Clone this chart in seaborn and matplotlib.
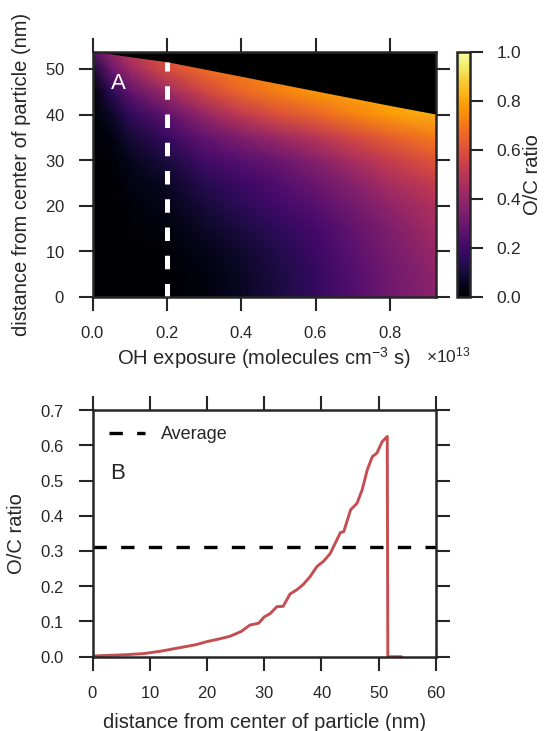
import numpy as np
import matplotlib
matplotlib.use("Agg")
import matplotlib.pyplot as plt
from matplotlib.ticker import ScalarFormatter
import seaborn as sns
import pandas as pd

# ---------------- data ----------------
# Panel A: O/C ratio field, exposure in units of 1e13 molecules cm^-3 s
exposure = [0.0, 0.05, 0.1, 0.2, 0.3, 0.4, 0.5, 0.6, 0.7, 0.8, 0.924]
distance = [0, 5, 10, 15, 20, 25, 30, 35, 40, 45, 50, 55]
# rows = distance, columns = exposure
oc_field = [
    [0.0, 0.0, 0.000, 0.002, 0.020, 0.060, 0.110, 0.170, 0.240, 0.310, 0.380],
    [0.0, 0.0, 0.000, 0.004, 0.025, 0.065, 0.115, 0.175, 0.245, 0.315, 0.390],
    [0.0, 0.0, 0.003, 0.011, 0.040, 0.080, 0.130, 0.190, 0.260, 0.330, 0.410],
    [0.0, 0.0, 0.008, 0.022, 0.070, 0.110, 0.160, 0.210, 0.280, 0.350, 0.440],
    [0.0, 0.0, 0.015, 0.043, 0.100, 0.150, 0.200, 0.250, 0.320, 0.390, 0.470],
    [0.0, 0.0, 0.030, 0.065, 0.140, 0.190, 0.240, 0.300, 0.370, 0.450, 0.530],
    [0.0, 0.01, 0.050, 0.110, 0.200, 0.250, 0.300, 0.370, 0.450, 0.530, 0.610],
    [0.0, 0.03, 0.090, 0.180, 0.280, 0.350, 0.420, 0.490, 0.570, 0.640, 0.710],
    [0.0, 0.07, 0.160, 0.270, 0.400, 0.510, 0.590, 0.650, 0.720, 0.780, 0.820],
    [0.0, 0.15, 0.270, 0.420, 0.560, 0.660, 0.720, 0.770, 0.800, 0.820, 0.840],
    [0.1, 0.30, 0.420, 0.580, 0.670, 0.720, 0.750, 0.780, 0.800, 0.820, 0.840],
    [0.3, 0.42, 0.520, 0.630, 0.680, 0.720, 0.750, 0.780, 0.800, 0.820, 0.840],
]
# particle surface radius (nm) at each exposure
radius = [53.9, 53.3, 52.7, 51.6, 50.0, 48.4, 46.8, 45.2, 43.6, 42.0, 40.1]
cut_exposure = 0.2  # exposure of the profile shown in panel B

# Panel B: radial O/C profile at the cut exposure
profile_r = [0, 3, 6, 9, 12, 15, 18, 20, 22, 24, 26, 27.5, 29, 30, 31, 32.2,
             33.3, 34.5, 35.7, 36.8, 38, 39.2, 40.3, 41.5, 42.4, 43.3, 43.9,
             45.1, 46.2, 47.1, 48.0, 48.9, 49.7, 50.6, 51.5, 51.6, 54]
profile_oc = [0.002, 0.004, 0.006, 0.009, 0.016, 0.025, 0.034, 0.043, 0.050,
              0.058, 0.072, 0.090, 0.095, 0.113, 0.122, 0.142, 0.143, 0.178,
              0.190, 0.205, 0.227, 0.256, 0.270, 0.292, 0.322, 0.352, 0.355,
              0.417, 0.435, 0.473, 0.530, 0.568, 0.578, 0.610, 0.625, 0.0, 0.0]
average_oc = 0.31

# ---------------- style ----------------
sns.set_theme(style="ticks")
dark = "#262626"
plt.rcParams.update({
    "font.family": ["Liberation Sans", "DejaVu Sans"],
    "mathtext.fontset": "custom",
    "mathtext.rm": "Liberation Sans",
    "mathtext.it": "Liberation Sans:italic",
    "mathtext.bf": "Liberation Sans:bold",
    "axes.formatter.use_mathtext": True,
    "axes.edgecolor": dark,
    "axes.linewidth": 1.8,
    "xtick.color": dark, "ytick.color": dark,
    "xtick.labelcolor": dark, "ytick.labelcolor": dark,
    "xtick.major.size": 9.8, "ytick.major.size": 9.8,
    "xtick.major.width": 1.5, "ytick.major.width": 1.5,
    "xtick.major.pad": 10.5, "ytick.major.pad": 10.5,
    "xtick.labelsize": 12, "ytick.labelsize": 12,
    "xtick.direction": "out", "ytick.direction": "out",
    "xtick.top": True, "ytick.right": True,
    "axes.labelsize": 14.5, "axes.labelcolor": dark,
    "text.color": dark,
})

fig = plt.figure(figsize=(5.5, 7.31), dpi=100)
ax1 = fig.add_axes([0.1685, 0.5941, 0.624, 0.3352])
cax = fig.add_axes([0.8304, 0.5941, 0.0242, 0.3352])
ax2 = fig.add_axes([0.1685, 0.1016, 0.624, 0.3375])

# ---------------- panel A ----------------
exp_abs = np.array(exposure) * 1e13
X, Y = np.meshgrid(exp_abs, np.array(distance, dtype=float))
Z = np.array(oc_field)
mesh = ax1.pcolormesh(X, Y, Z, shading="gouraud", cmap="inferno",
                      vmin=0, vmax=1, rasterized=True)
ax1.fill_between(exp_abs, radius, 60, color="black", lw=0, zorder=2)
cut_idx = exposure.index(cut_exposure)
ax1.plot([cut_exposure * 1e13] * 2, [0, radius[cut_idx]], color="white",
         lw=3.6, dashes=(2.7, 2.95), dash_capstyle="butt", zorder=3)
ax1.text(0.049e13, 46.8, "A", color="white", fontsize=16, ha="left",
         va="center", zorder=4)
ax1.set_xlim(0, 0.924e13)
ax1.set_ylim(0, 53.8)
ax1.set_xticks(np.arange(0, 0.81, 0.2) * 1e13)
ax1.set_yticks(np.arange(0, 51, 10))
fmt = ScalarFormatter(useMathText=True)
fmt.set_powerlimits((13, 13))
ax1.xaxis.set_major_formatter(fmt)
ax1.set_xlabel("OH exposure (molecules cm$^{-3}$ s)", labelpad=3)
ax1.set_ylabel("distance from center of particle (nm)", labelpad=10)
off = ax1.xaxis.get_offset_text()
off.set_fontsize(12.5)
off.set_x(1.1)
for s in ax1.spines.values():
    s.set_zorder(5)

cb = fig.colorbar(mesh, cax=cax)
cb.outline.set_edgecolor(dark)
cb.outline.set_linewidth(1.8)
cb.set_ticks(np.arange(0, 1.01, 0.2))
cb.set_label("O/C ratio", fontsize=14.5, labelpad=1)
cax.yaxis.set_ticks_position("right")
cax.tick_params(axis="y", which="major", direction="out", right=True,
                left=False, length=9.5, width=1.5, pad=9.5, labelsize=12.5,
                color=dark)
cax.minorticks_off()

# ---------------- panel B ----------------
prof = pd.DataFrame({"r": profile_r, "oc": profile_oc})
sns.lineplot(data=prof, x="r", y="oc", ax=ax2, color="#c44e52", lw=2.1,
             sort=False, estimator=None)
ax2.axhline(average_oc, color="black", lw=2.4, dashes=(4.0, 4.3),
            dash_capstyle="butt", label="Average")
ax2.text(3.1, 0.521, "B", fontsize=16, ha="left", va="center")
ax2.set_xlim(0, 60)
ax2.set_ylim(0, 0.7)
ax2.set_xticks(np.arange(0, 61, 10))
ax2.set_yticks(np.arange(0, 0.71, 0.1))
ax2.set_xlabel("distance from center of particle (nm)", labelpad=9)
ax2.set_ylabel("O/C ratio", labelpad=10)
ax2.legend(loc="upper left", frameon=False, fontsize=13, handlelength=2.0,
           handletextpad=0.87)

fig.savefig("out.png", dpi=100)
